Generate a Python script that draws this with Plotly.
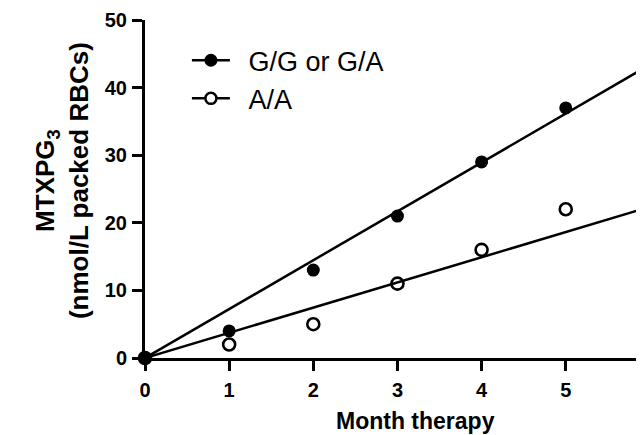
import numpy as np
import plotly.graph_objects as go

months = [0, 1, 2, 3, 4, 5, 6]
gg_ga = [0, 4, 13, 21, 29, 37, 44]
aa = [0, 2, 5, 11, 16, 22, 20]
x_ticks = [0, 1, 2, 3, 4, 5, 6]
y_ticks = [0, 10, 20, 30, 40, 50]
series_names = ["G/G or G/A", "A/A"]

FONT = "Liberation Sans, Arial, sans-serif"

def fit_origin(x, y):
    x = np.asarray(x, float)
    y = np.asarray(y, float)
    return float((x * y).sum() / (x * x).sum())

fig = go.Figure()

x_fit = np.array([min(months), max(months)], float)
for ys in (aa, gg_ga):
    k = fit_origin(months, ys)
    fig.add_trace(go.Scatter(x=x_fit, y=k * x_fit, mode="lines",
                             line=dict(color="black", width=2.5),
                             showlegend=False, hoverinfo="skip"))

fig.add_trace(go.Scatter(x=months, y=aa, mode="markers", showlegend=False,
                         cliponaxis=False,
                         marker=dict(symbol="circle-open", size=12, color="black",
                                     line=dict(width=2.6, color="black"))))
fig.add_trace(go.Scatter(x=months, y=gg_ga, mode="markers", showlegend=False,
                         cliponaxis=False,
                         marker=dict(symbol="circle", size=13, color="black")))

# legend entries (line + marker glyph); en-space gives the wider symbol-to-text gap
fig.add_trace(go.Scatter(x=[None], y=[None], mode="lines+markers",
                         name="\u2002" + series_names[0], legendgroup="g1",
                         line=dict(color="black", width=2.5),
                         marker=dict(symbol="circle", size=13, color="black")))
fig.add_trace(go.Scatter(x=[None], y=[None], mode="lines+markers",
                         name="\u2002" + series_names[1], legendgroup="g2",
                         line=dict(color="black", width=2.5),
                         marker=dict(symbol="circle", size=11, color="white",
                                     line=dict(width=2.5, color="black"))))

axis_common = dict(showgrid=False, zeroline=False, showline=True, linecolor="black",
                   linewidth=3, ticks="outside", ticklen=10, tickwidth=3, tickcolor="black",
                   layer="below traces",
                   tickfont=dict(family=FONT, size=20, color="black", weight="bold"))

fig.update_xaxes(range=[0, 5.93], tickvals=x_ticks, ticklabelstandoff=2, **axis_common)
fig.update_yaxes(range=[0, 50], tickvals=y_ticks, ticklabelstandoff=1, **axis_common)

# page body has an 8px default margin: figure is laid out in shifted coordinates
fig.update_layout(
    width=636, height=427,
    margin=dict(l=137, r=0, t=12, b=77),
    paper_bgcolor="white", plot_bgcolor="white",
    showlegend=True,
    legend=dict(x=0.084, y=0.952, xanchor="left", yanchor="top",
                font=dict(family=FONT, size=27, color="black"),
                bgcolor="rgba(0,0,0,0)", tracegroupgap=0, itemsizing="trace",
                itemwidth=38),
    annotations=[
        dict(text="<b>MTXPG<sub>3</sub></b><br><b>(nmol/L packed RBCs)</b>",
             xref="paper", yref="paper", x=-0.166, y=0.524,
             xanchor="center", yanchor="middle", textangle=-90, showarrow=False,
             font=dict(family=FONT, size=26, color="black")),
        dict(text="<b>Month therapy</b>", xref="paper", yref="paper",
             x=0.543, y=-0.186, xanchor="center", yanchor="middle", showarrow=False,
             font=dict(family=FONT, size=23, color="black")),
    ],
)

fig.write_html("out.html")
